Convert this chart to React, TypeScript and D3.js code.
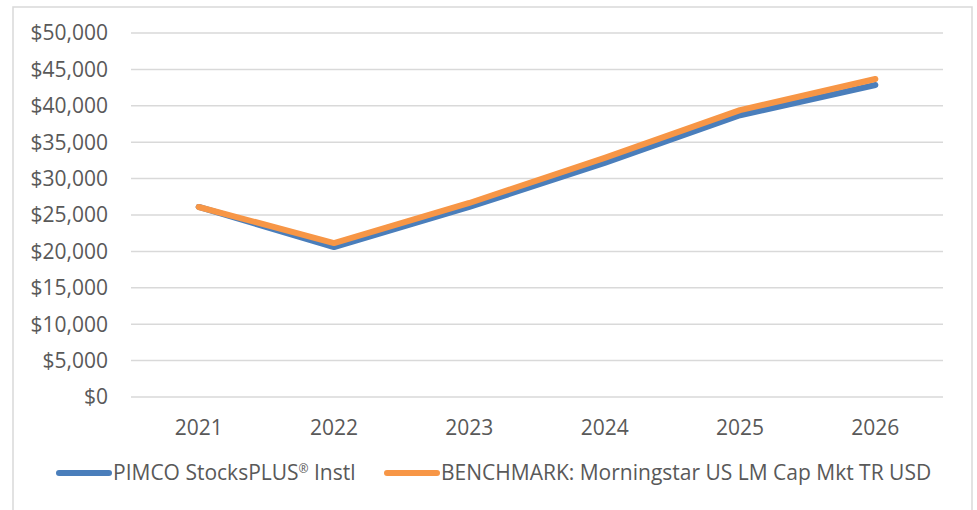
import React, { useEffect, useRef } from 'react'
import * as d3 from 'd3'

// values
const years = ['2021', '2022', '2023', '2024', '2025', '2026']
const pimcoValues = [26100, 20600, 26100, 32150, 38700, 42860]
const benchValues = [26100, 21150, 26650, 32850, 39400, 43680]
const yTicks = [0, 5000, 10000, 15000, 20000, 25000, 30000, 35000, 40000, 45000, 50000]
const seriesNames = ['PIMCO StocksPLUS® Instl', 'BENCHMARK: Morningstar US LM Cap Mkt TR USD']
const seriesColors = ['#4a7ebb', '#f79646']

const W = 977
const H = 510

export default function App() {
  const svgRef = useRef<SVGSVGElement>(null)

  useEffect(() => {
    const svg = d3.select(svgRef.current)
    svg.selectAll('*').remove()

    const font = '"Open Sans", sans-serif'
    const textColor = '#595959'
    const fs = 21

    // outer frame
    svg.append('rect')
      .attr('x', 13).attr('y', 7)
      .attr('width', 959).attr('height', 510)
      .attr('fill', '#fff')
      .attr('stroke', '#d9d9d9')
      .attr('stroke-width', 1.5)

    const x = d3.scaleBand<string>().domain(years).range([131, 943])
    const y = d3.scaleLinear().domain([0, 50000]).range([397, 33])

    // gridlines
    svg.append('g')
      .selectAll('line')
      .data(yTicks)
      .join('line')
      .attr('x1', 131).attr('x2', 943)
      .attr('y1', d => y(d)).attr('y2', d => y(d))
      .attr('stroke', '#d9d9d9')
      .attr('stroke-width', 1.5)

    // y labels
    svg.append('g')
      .selectAll('text')
      .data(yTicks)
      .join('text')
      .attr('x', 108)
      .attr('y', d => y(d))
      .attr('dy', '0.35em')
      .attr('text-anchor', 'end')
      .attr('font-family', font)
      .attr('font-size', fs)
      .attr('fill', textColor)
      .text(d => '$' + d3.format(',')(d))

    // x labels
    svg.append('g')
      .selectAll('text')
      .data(years)
      .join('text')
      .attr('x', d => (x(d) as number) + x.bandwidth() / 2)
      .attr('y', 428)
      .attr('dy', '0.35em')
      .attr('text-anchor', 'middle')
      .attr('font-family', font)
      .attr('font-size', fs)
      .attr('fill', textColor)
      .text(d => d)

    const lineGen = d3.line<number>()
      .x((_, i) => (x(years[i]) as number) + x.bandwidth() / 2)
      .y(d => y(d))

    ;[pimcoValues, benchValues].forEach((vals, i) => {
      svg.append('path')
        .datum(vals)
        .attr('fill', 'none')
        .attr('stroke', seriesColors[i])
        .attr('stroke-width', 6)
        .attr('stroke-linecap', 'round')
        .attr('stroke-linejoin', 'round')
        .attr('d', lineGen)
    })

    // legend
    const legendX = [59, 387]
    seriesNames.forEach((name, i) => {
      const g = svg.append('g').attr('transform', `translate(${legendX[i]},473)`)
      g.append('line')
        .attr('x1', 0).attr('x2', 50)
        .attr('y1', 0).attr('y2', 0)
        .attr('stroke', seriesColors[i])
        .attr('stroke-width', 6)
        .attr('stroke-linecap', 'round')
      const t = g.append('text')
        .attr('x', 54)
        .attr('y', 0)
        .attr('dy', '0.35em')
        .attr('font-family', font)
        .attr('font-size', fs)
        .attr('fill', textColor)
      const parts = name.split('®')
      t.append('tspan').text(parts[0])
      if (parts.length > 1) {
        t.append('tspan')
          .attr('font-size', 12)
          .attr('baseline-shift', '60%')
          .text('®')
        t.append('tspan').text(parts[1])
      }
    })
  }, [])

  return (
    <div style={{ position: 'absolute', left: 0, top: 0 }}>
      <svg ref={svgRef} width={W} height={H} style={{ display: 'block' }} />
    </div>
  )
}
